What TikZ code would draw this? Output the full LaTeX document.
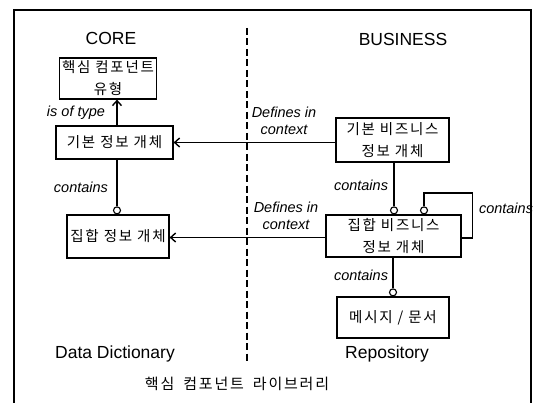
\documentclass[tikz,border=0pt]{standalone}
\usepackage{fontspec}
\setmainfont{Liberation Sans}
\newfontfamily\kr[LetterSpace=12]{Noto Sans CJK KR}
\usetikzlibrary{arrows.meta,calc}
\begin{document}
\begin{tikzpicture}[x=1pt,y=-1pt,
  box/.style={draw, line width=1.2pt, align=center, inner sep=0pt,
    font=\kr\fontsize{14.5}{22}\selectfont},
  circ/.style={draw, circle, fill=white, line width=1.1pt, inner sep=0pt, minimum size=7pt, anchor=south},
  conn/.style={line width=1.2pt},
  arr/.style={line width=1.2pt, -{Straight Barb[length=5pt,width=9pt,line width=1.4pt]}},
  lab/.style={font=\fontsize{14.5}{17}\selectfont\itshape, inner sep=0pt, align=center},
  head/.style={font=\fontsize{17.5}{20}\selectfont, inner sep=0pt},
  krt/.style={font=\kr\fontsize{15}{18}\selectfont, inner sep=0pt}]
\useasboundingbox (0,0) rectangle (534,403);
\begin{scope}
\clip (0,0) rectangle (534,403);
\draw[line width=1.4pt] (14,420) -- (14,10) -- (531,10) -- (531,420);
\end{scope}
% divider
\draw[line width=1.8pt, dash pattern=on 7pt off 3.5pt] (247,28) -- (247,364);
% headings
\node[head] (core) at (111,38) {CORE};
\node[head] (bus) at (403,39) {BUSINESS};
\node[head] (dd) at (115,354) {Data Dictionary};
\node[head] (rep) at (387,354) {Repository};
\node[krt] (title) at (237,384) {핵심\hspace{9pt}컴포넌트\hspace{9pt}라이브러리};
% boxes
\node[box, minimum width=97pt, minimum height=41pt] (t) at (108,78.5) {핵심 컴포넌트\\유형};
\node[box, minimum width=117pt, minimum height=33pt] (b) at (114.5,142.5) {기본 정보 개체};
\node[box, minimum width=102pt, minimum height=43pt] (a) at (118,236.5) {집합 정보 개체};
\node[box, minimum width=113pt, minimum height=44pt] (B) at (392.5,140) {기본 비즈니스\\정보 개체};
\node[box, minimum width=135pt, minimum height=42pt] (A) at (393.5,236) {집합 비즈니스\\정보 개체};
\node[box, minimum width=112pt, minimum height=41pt] (M) at (393,317.5) {메시지 / 문서};
% circles
\node[circ] (c0) at ($(a.north)+(-1,0)$) {};
\node[circ] (c1) at ($(A.north)+(0.5,0)$) {};
\node[circ] (c2) at ($(A.north)+(30.5,0)$) {};
\node[circ] (c3) at ($(M.north)+(0,0)$) {};
% connectors
\draw[arr] (b.north -| c0) -- (t.south -| c0);
\draw[conn] (b.south -| c0) -- (c0.north);
\draw[arr] (b.east -| B.west) -- (b.east);
\draw[arr] ($(A.west)+(0,1.5)$) -- ($(A.west -| a.east)+(0,1.5)$);
\draw[conn] (B.south -| c1) -- (c1.north);
\draw[conn] ($(A.east)+(0,2)$) -- ++(11,0) -- ++(0,-45) -| (c2.north);
\draw[conn] (A.south -| c3) -- (c3.north);
% labels
\node[lab] (l1) at (76,113) {is of type};
\node[lab] (l2) at (81,187) {contains};
\node[lab] (l3) at (284,121) {Defines in\\context};
\node[lab] (l4) at (361,185) {contains};
\node[lab] (l5) at (286,216) {Defines in\\context};
\node[lab] (l6) at (506,208) {contains};
\node[lab] (l7) at (361,275) {contains};
\end{tikzpicture}
\end{document}
